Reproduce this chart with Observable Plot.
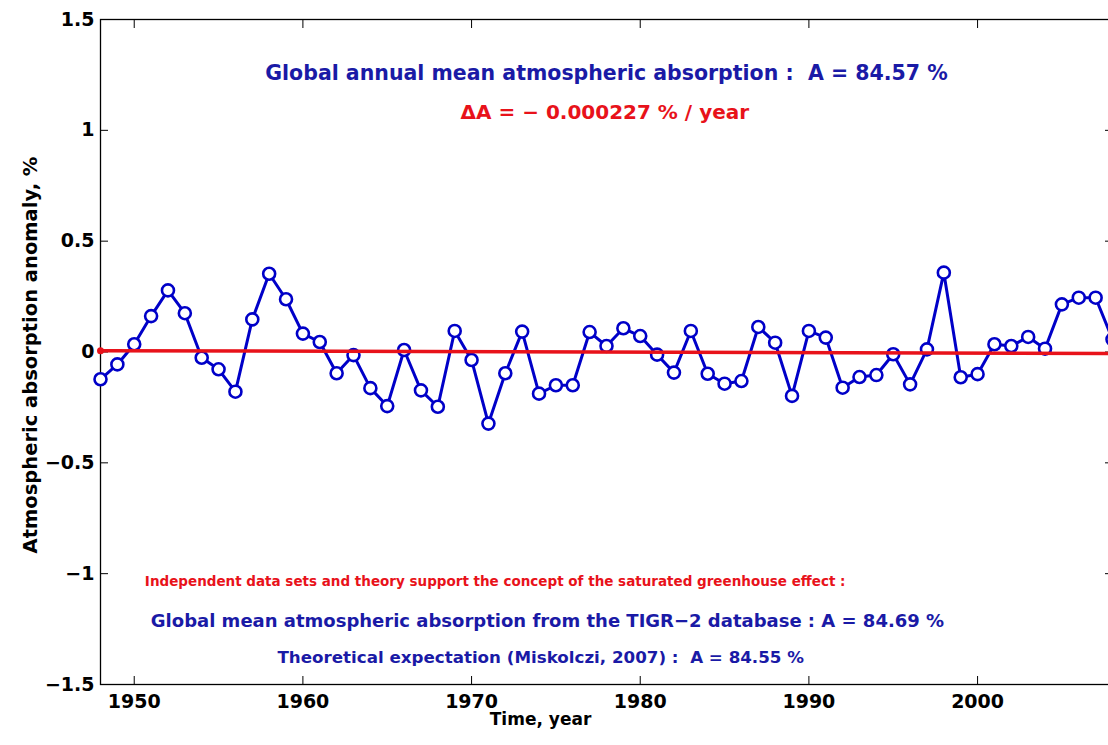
<!DOCTYPE html>
<html><head><meta charset="utf-8">
<script src="https://cdn.jsdelivr.net/npm/d3@7"></script>
<script src="https://cdn.jsdelivr.net/npm/@observablehq/plot@0.6"></script>
<style>body{margin:0;background:#fff} svg{display:block}</style>
</head><body><div id="chart"></div>
<script>
const years = [1948,1949,1950,1951,1952,1953,1954,1955,1956,1957,1958,1959,1960,1961,1962,1963,1964,1965,1966,1967,1968,1969,1970,1971,1972,1973,1974,1975,1976,1977,1978,1979,1980,1981,1982,1983,1984,1985,1986,1987,1988,1989,1990,1991,1992,1993,1994,1995,1996,1997,1998,1999,2000,2001,2002,2003,2004,2005,2006,2007,2008];
const anomaly = [-0.123,-0.056,0.035,0.162,0.278,0.175,-0.026,-0.078,-0.179,0.147,0.353,0.238,0.083,0.045,-0.096,-0.014,-0.163,-0.244,0.009,-0.173,-0.247,0.095,-0.036,-0.323,-0.096,0.092,-0.188,-0.150,-0.150,0.090,0.027,0.107,0.072,-0.012,-0.093,0.095,-0.098,-0.143,-0.131,0.113,0.042,-0.198,0.095,0.065,-0.161,-0.113,-0.104,-0.010,-0.146,0.012,0.358,-0.114,-0.100,0.035,0.027,0.068,0.015,0.215,0.245,0.245,0.057];
const trendYears = [1948, 2008];
const trendValues = [0.006, -0.007];
const xTicks = [1950, 1960, 1970, 1980, 1990, 2000];
const yTicks = [-1.5, -1, -0.5, 0, 0.5, 1, 1.5];
const titleText = "Global annual mean atmospheric absorption :  A = 84.57 %";
const trendText = "\u0394A = \u2212 0.000227 % / year";
const supportText = "Independent data sets and theory support the concept of the saturated greenhouse effect :";
const tigrText = "Global mean atmospheric absorption from the TIGR\u22122 database : A = 84.69 %";
const theoryText = "Theoretical expectation (Miskolczi, 2007) :  A = 84.55 %";
const xLabel = "Time, year";
const yLabel = "Atmospheric absorption anomaly, %";

const series = years.map((y, i) => ({year: y, value: anomaly[i]}));
const trend = trendYears.map((y, i) => ({year: y, value: trendValues[i]}));

const BLUE = "#0000c8";
const TBLUE = "#1a1aa6";
const RED = "#e8121a";
const fmt = d => (d < 0 ? "\u2212" : "") + Math.abs(d);

const chart = Plot.plot({
  width: 1108, height: 745,
  marginLeft: 100, marginRight: -4, marginTop: 19, marginBottom: 61,
  x: {domain: [1948, 2008]},
  y: {domain: [-1.5, 1.5]},
  style: {fontFamily: "'DejaVu Sans', sans-serif", background: "white", color: "black"},
  marks: [
    Plot.frame({stroke: "black", strokeWidth: 1.3}),
    Plot.axisX(xTicks, {anchor: "bottom", tickSize: -8, tickFormat: () => "", label: null}),
    Plot.axisX(xTicks, {anchor: "top", tickSize: -8, tickFormat: () => "", label: null}),
    Plot.axisY(yTicks, {anchor: "left", tickSize: -8, tickFormat: () => "", label: null}),
    Plot.axisY(yTicks, {anchor: "right", tickSize: -8, tickFormat: () => "", label: null}),
    Plot.axisX(xTicks, {anchor: "bottom", tickSize: 0, tickPadding: 10, tickFormat: d => String(d), fontSize: 19, fontWeight: "bold", label: null}),
    Plot.axisY(yTicks, {anchor: "left", tickSize: 0, tickPadding: 6, tickFormat: fmt, fontSize: 19, fontWeight: "bold", label: null}),
    Plot.text([yLabel], {frameAnchor: "left", dx: -70, dy: 3, rotate: -90, textAnchor: "middle", lineAnchor: "middle", fontSize: 19.5, fontWeight: "bold", fill: "black"}),
    Plot.text([xLabel], {frameAnchor: "bottom-left", dx: 440, dy: 35, textAnchor: "middle", lineAnchor: "middle", fontSize: 17, fontWeight: "bold", fill: "black"}),
    Plot.line(series, {x: "year", y: "value", stroke: BLUE, strokeWidth: 3}),
    Plot.dot(series, {x: "year", y: "value", r: 6, stroke: BLUE, strokeWidth: 2.6, fill: "white"}),
    Plot.line(trend, {x: "year", y: "value", stroke: RED, strokeWidth: 3.5}),
    Plot.dot(trend.slice(0, 1), {x: "year", y: "value", r: 3.5, fill: RED}),
    Plot.text([titleText], {x: () => 1978.0, y: () => 1.258, fill: TBLUE, fontSize: 20.5, fontWeight: "bold"}),
    Plot.text([trendText], {x: () => 1977.9, y: () => 1.078, fill: RED, fontSize: 20, fontWeight: "bold"}),
    Plot.text([supportText], {x: () => 1971.4, y: () => -1.037, fill: RED, fontSize: 13.5, fontWeight: "bold"}),
    Plot.text([tigrText], {x: () => 1974.5, y: () => -1.213, fill: TBLUE, fontSize: 18, fontWeight: "bold"}),
    Plot.text([theoryText], {x: () => 1974.1, y: () => -1.380, fill: TBLUE, fontSize: 16.7, fontWeight: "bold"})
  ]
});
document.getElementById("chart").append(chart);
</script>
</body></html>
